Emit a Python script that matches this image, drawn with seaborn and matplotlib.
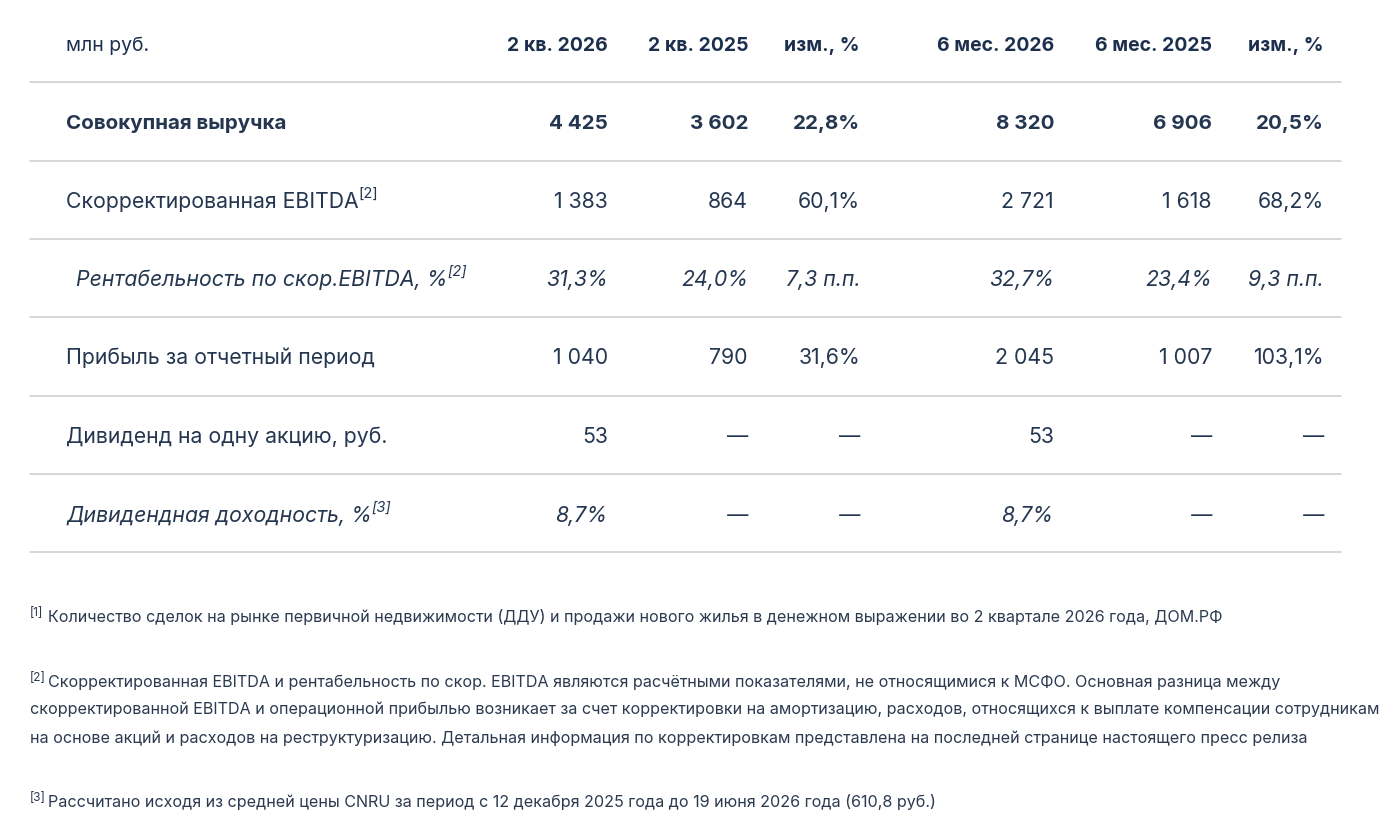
import matplotlib
matplotlib.use("Agg")
import matplotlib.pyplot as plt
import seaborn as sns

# table content
unit_label = "млн руб."
col_headers = ["2 кв. 2026", "2 кв. 2025", "изм., %", "6 мес. 2026", "6 мес. 2025", "изм., %"]
row_labels = [
    "Совокупная выручка",
    "Скорректированная EBITDA",
    "Рентабельность по скор.EBITDA, %",
    "Прибыль за отчетный период",
    "Дивиденд на одну акцию, руб.",
    "Дивидендная доходность, %",
]
row_notes = ["", "[2]", "[2]", "", "", "[3]"]
q2_2026 = ["4 425", "1 383", "31,3%", "1 040", "53", "8,7%"]
q2_2025 = ["3 602", "864", "24,0%", "790", "—", "—"]
q_change = ["22,8%", "60,1%", "7,3 п.п.", "31,6%", "—", "—"]
h1_2026 = ["8 320", "2 721", "32,7%", "2 045", "53", "8,7%"]
h1_2025 = ["6 906", "1 618", "23,4%", "1 007", "—", "—"]
h_change = ["20,5%", "68,2%", "9,3 п.п.", "103,1%", "—", "—"]

footnote_marks = ["[1]", "[2]", "[3]"]
footnotes = [
    ["Количество сделок на рынке первичной недвижимости (ДДУ) и продажи нового жилья в денежном выражении во 2 квартале 2026 года, ДОМ.РФ"],
    ["Скорректированная EBITDA и рентабельность по скор. EBITDA являются расчётными показателями, не относящимися к МСФО. Основная разница между",
     "скорректированной EBITDA и операционной прибылью возникает за счет корректировки на амортизацию, расходов, относящихся к выплате компенсации сотрудникам",
     "на основе акций и расходов на реструктуризацию. Детальная информация по корректировкам представлена на последней странице настоящего пресс релиза"],
    ["Рассчитано исходя из средней цены CNRU за период с 12 декабря 2025 года до 19 июня 2026 года (610,8 руб.)"],
]

# styles
row_weight = ["bold", "normal", "normal", "normal", "normal", "normal"]
row_style = ["normal", "normal", "italic", "normal", "normal", "italic"]
row_size = [14.8, 15.3, 15.3, 15.3, 15.3, 15.3]
row_indent = [0, 0, 10, 0, 0, 0]

sns.set_theme(style="white")
plt.rcParams["font.family"] = ["Inter", "DejaVu Sans"]

W, H = 1389, 832
fig = plt.figure(figsize=(W / 100, H / 100), dpi=100)
ax = fig.add_axes([0, 0, 1, 1])
ax.set_xlim(0, W)
ax.set_ylim(H, 0)
ax.axis("off")

head_color = "#1c2f4d"
text_color = "#243650"
note_color = "#2c3a50"
line_color = "#cccccc"

col_right = [608, 748, 860, 1054, 1212, 1324]
label_x = 66
header_y = 46
row_y = [124, 202, 280, 358, 437, 516]
sep_y = [82, 161, 239, 317, 396, 474, 552]

renderer = fig.canvas.get_renderer()

ax.text(label_x, header_y, unit_label, fontsize=14, color=head_color,
        va="center", ha="left")
for x, h in zip(col_right, col_headers):
    ax.text(x, header_y, h, fontsize=14, color=head_color, fontweight="bold",
            va="center", ha="right")

for y in sep_y:
    ax.plot([30, 1341], [y, y], color=line_color, lw=1.1)

columns = [q2_2026, q2_2025, q_change, h1_2026, h1_2025, h_change]
for i, label in enumerate(row_labels):
    y = row_y[i]
    t = ax.text(label_x + row_indent[i], y, label, fontsize=row_size[i], color=text_color,
                fontweight=row_weight[i], fontstyle=row_style[i], va="center", ha="left")
    if row_notes[i]:
        bb = t.get_window_extent(renderer).transformed(ax.transData.inverted())
        ax.text(bb.x1, y - 8, row_notes[i], fontsize=10.5, color=text_color,
                fontstyle=row_style[i], va="center", ha="left")
    for x, col in zip(col_right, columns):
        ax.text(x, y, col[i], fontsize=row_size[i], color=text_color,
                fontweight=row_weight[i], fontstyle=row_style[i], va="center", ha="right")

note_y = [[617], [682, 709, 738], [802]]
for mark, lines, ys in zip(footnote_marks, footnotes, note_y):
    ax.text(30, ys[0] - 4, mark, fontsize=8.5, color=note_color, va="center", ha="left")
    for j, (line, y) in enumerate(zip(lines, ys)):
        ax.text(48 if j == 0 else 30, y, line, fontsize=11.6, color=note_color,
                va="center", ha="left")

fig.savefig("out.png", dpi=100, facecolor="white")
